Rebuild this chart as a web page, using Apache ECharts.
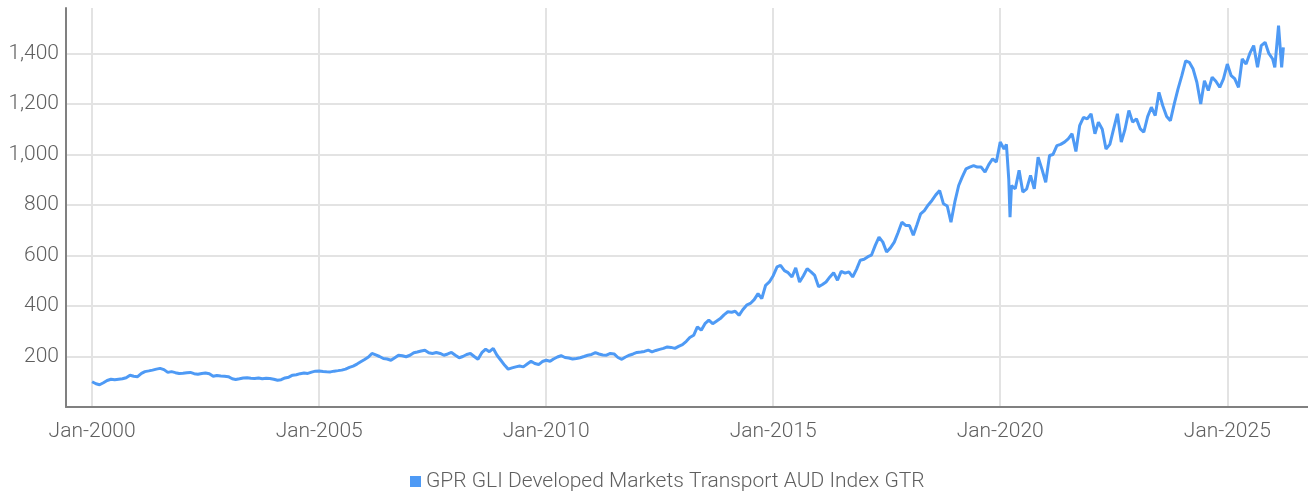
<!DOCTYPE html>
<html>
<head>
<meta charset="utf-8">
<script src="https://cdn.jsdelivr.net/npm/echarts@6/dist/echarts.min.js"></script>
<style>
  html, body { margin: 0; padding: 0; background: #fff; }
  #chart { width: 1308px; height: 493px; }
</style>
</head>
<body>
<div id="chart"></div>
<script>
// series name
var seriesName = 'GPR GLI Developed Markets Transport AUD Index GTR';

// index level (roughly month by month)
var dates = [
  '2000-01-01','2000-02-01','2000-03-01','2000-04-01','2000-05-01','2000-06-01','2000-07-01','2000-08-01','2000-09-01','2000-10-01','2000-11-01','2000-12-01',
  '2001-01-01','2001-02-01','2001-03-01','2001-04-01','2001-05-01','2001-06-01','2001-07-01','2001-08-01','2001-09-01','2001-10-01','2001-11-01','2001-12-01',
  '2002-01-01','2002-02-01','2002-03-01','2002-04-01','2002-05-01','2002-06-01','2002-07-01','2002-08-01','2002-09-01','2002-10-01','2002-11-01','2002-12-01',
  '2003-01-01','2003-02-01','2003-03-01','2003-04-01','2003-05-01','2003-06-01','2003-07-01','2003-08-01','2003-09-01','2003-10-01','2003-11-01','2003-12-01',
  '2004-01-01','2004-02-01','2004-03-01','2004-04-01','2004-05-01','2004-06-01','2004-07-01','2004-08-01','2004-09-01','2004-10-01','2004-11-01','2004-12-01',
  '2005-01-01','2005-02-01','2005-03-01','2005-04-01','2005-05-01','2005-06-01','2005-07-01','2005-08-01','2005-09-01','2005-10-01','2005-11-01','2005-12-01',
  '2006-01-01','2006-02-01','2006-03-01','2006-04-01','2006-05-01','2006-06-01','2006-07-01','2006-08-01','2006-09-01','2006-10-01','2006-11-01','2006-12-01',
  '2007-01-01','2007-02-01','2007-03-01','2007-04-01','2007-05-01','2007-06-01','2007-07-01','2007-08-01','2007-09-01','2007-10-01','2007-11-01','2007-12-01',
  '2008-01-01','2008-02-01','2008-03-01','2008-04-01','2008-05-01','2008-06-01','2008-07-01','2008-08-01','2008-09-01','2008-10-01','2008-11-01','2008-12-01',
  '2009-01-01','2009-02-01','2009-03-01','2009-04-01','2009-05-01','2009-06-01','2009-07-01','2009-08-01','2009-09-01','2009-10-01','2009-11-01','2009-12-01',
  '2010-01-01','2010-02-01','2010-03-01','2010-04-01','2010-05-01','2010-06-01','2010-07-01','2010-08-01','2010-09-01','2010-10-01','2010-11-01','2010-12-01',
  '2011-01-01','2011-02-01','2011-03-01','2011-04-01','2011-05-01','2011-06-01','2011-07-01','2011-08-01','2011-09-01','2011-10-01','2011-11-01','2011-12-01',
  '2012-01-01','2012-02-01','2012-03-01','2012-04-01','2012-05-01','2012-06-01','2012-07-01','2012-08-01','2012-09-01','2012-10-01','2012-11-01','2012-12-01',
  '2013-01-01','2013-02-01','2013-03-01','2013-04-01','2013-05-01','2013-06-01','2013-07-01','2013-08-01','2013-09-01','2013-10-01','2013-11-01','2013-12-01',
  '2014-01-01','2014-02-01','2014-03-01','2014-04-01','2014-05-01','2014-06-01','2014-07-01','2014-08-01','2014-09-01','2014-10-01','2014-11-01','2014-12-01',
  '2015-01-01','2015-02-01','2015-03-01','2015-04-01','2015-05-01','2015-06-01','2015-07-01','2015-08-01','2015-09-01','2015-10-01','2015-11-01','2015-12-01',
  '2016-01-01','2016-02-01','2016-03-01','2016-04-01','2016-05-01','2016-06-01','2016-07-01','2016-08-01','2016-09-01','2016-10-01','2016-11-01','2016-12-01',
  '2017-01-01','2017-02-01','2017-03-01','2017-04-01','2017-05-01','2017-06-01','2017-07-01','2017-08-01','2017-09-01','2017-10-01','2017-11-01','2017-12-01',
  '2018-01-01','2018-02-01','2018-03-01','2018-04-01','2018-05-01','2018-06-01','2018-07-01','2018-08-01','2018-09-01','2018-10-01','2018-11-01','2018-12-01',
  '2019-01-01','2019-02-01','2019-03-01','2019-04-01','2019-05-01','2019-06-01','2019-07-01','2019-08-01','2019-09-01','2019-10-01','2019-11-01','2019-12-01',
  '2020-01-01','2020-02-01','2020-02-20','2020-03-10','2020-03-20','2020-04-01','2020-05-01','2020-06-01','2020-07-01','2020-08-01','2020-09-01','2020-10-01','2020-11-01','2020-12-01',
  '2021-01-01','2021-02-01','2021-03-01','2021-04-01','2021-05-01','2021-06-01','2021-07-01','2021-08-01','2021-09-01','2021-10-01','2021-11-01','2021-12-01',
  '2022-01-01','2022-02-01','2022-03-01','2022-04-01','2022-05-01','2022-06-01','2022-07-01','2022-08-01','2022-09-01','2022-10-01','2022-11-01','2022-12-01',
  '2023-01-01','2023-02-01','2023-03-01','2023-04-01','2023-05-01','2023-06-01','2023-07-01','2023-08-01','2023-09-01','2023-10-01','2023-11-01','2023-12-01',
  '2024-01-01','2024-02-01','2024-03-01','2024-04-01','2024-05-01','2024-06-01','2024-07-01','2024-08-01','2024-09-01','2024-10-01','2024-11-01','2024-12-01',
  '2025-01-01','2025-02-01','2025-03-01','2025-04-01','2025-05-01','2025-06-01','2025-07-01','2025-08-01','2025-09-01','2025-10-01','2025-11-01','2025-12-01',
  '2026-01-01','2026-01-18','2026-02-17','2026-03-14','2026-03-28'
];
var values = [
  100, 92, 88, 96, 105, 110, 108, 110, 112, 116, 126, 122,
  120, 133, 140, 143, 146, 150, 153, 148, 137, 140, 136, 133,
  134, 136, 137, 132, 130, 133, 135, 132, 122, 125, 123, 122,
  120, 112, 109, 112, 115, 116, 114, 113, 115, 112, 114, 113,
  110, 106, 108, 115, 118, 126, 128, 132, 135, 133, 138, 142,
  143, 141, 140, 139, 142, 144, 146, 150, 157, 162, 170, 179,
  188, 198, 212, 206, 200, 192, 190, 185, 195, 205, 203, 199,
  205, 215, 218, 222, 225, 215, 212, 216, 212, 205, 210, 216,
  205, 195, 200, 208, 212, 200, 189, 215, 229, 219, 232, 205,
  185, 165, 150, 155, 159, 162, 159, 170, 181, 172, 168, 180,
  185, 181, 190, 198, 203, 196, 194, 190, 192, 195, 200, 205,
  208, 215, 210, 206, 205, 212, 210, 196, 189, 198, 205, 210,
  216, 218, 220, 225, 218, 224, 228, 232, 238, 236, 232, 240,
  247, 260, 275, 284, 317, 304, 330, 344, 330, 340, 350, 365,
  377, 375, 379, 363, 385, 403, 410, 425, 449, 429, 482, 495,
  520, 555, 561, 540, 532, 515, 551, 495, 520, 548, 535, 521,
  476, 485, 495, 515, 532, 502, 537, 530, 535, 515, 545, 581,
  585, 595, 601, 640, 673, 653, 614, 630, 653, 690, 732, 719,
  719, 680, 720, 765, 778, 800, 818, 840, 857, 805, 796, 732,
  812, 877, 910, 943, 950, 956, 950, 950, 930, 960, 983, 970,
  1049, 1022, 1040, 900, 752, 877, 864, 937, 851, 864, 917, 864, 989, 943,
  890, 996, 1000, 1035, 1040, 1049, 1062, 1082, 1012, 1114, 1147, 1141,
  1161, 1082, 1128, 1100, 1022, 1040, 1100, 1161, 1049, 1100, 1174, 1128,
  1141, 1101, 1088, 1150, 1187, 1154, 1246, 1193, 1150, 1134, 1200, 1259,
  1312, 1371, 1365, 1338, 1286, 1200, 1292, 1253, 1306, 1290, 1266, 1299,
  1358, 1312, 1300, 1266, 1378, 1358, 1400, 1431, 1345, 1431, 1444, 1400,
  1378, 1345, 1510, 1345, 1424
];

// labelled years on the x axis
var tickYears = [2000, 2005, 2010, 2015, 2020, 2025];

var textColor = '#5f5f5f';
var fontFam = 'Roboto, sans-serif';
var fontW = 300;

function toTime(s) {
  return +echarts.time.parse(s);
}

var chart = echarts.init(document.getElementById('chart'), null, { renderer: 'canvas' });

var tickTimes = tickYears.map(function (y) {
  return toTime(y + '-01-01');
});

var option = {
  animation: false,
  grid: {
    left: 66,
    right: 0,
    top: 8,
    bottom: 86
  },
  legend: {
    show: true,
    left: 405,
    top: 466,
    icon: 'rect',
    itemWidth: 11,
    itemHeight: 11,
    itemGap: 6,
    textStyle: {
      color: textColor,
      fontFamily: fontFam,
      fontWeight: fontW,
      fontSize: 21
    },
    data: [seriesName]
  },
  // x is a plain value axis holding timestamps, so the labelled Januaries can be fixed
  xAxis: {
    type: 'value',
    min: toTime('1999-06-05'),
    max: toTime('2026-10-12'),
    axisLine: {
      show: true,
      lineStyle: { color: '#808080', width: 2 }
    },
    axisTick: {
      show: false,
      customValues: tickTimes
    },
    axisLabel: {
      customValues: tickTimes,
      margin: 14,
      color: textColor,
      fontFamily: fontFam,
      fontWeight: fontW,
      fontSize: 21,
      formatter: function (v) {
        return 'Jan-' + new Date(v).getFullYear();
      }
    },
    splitLine: {
      show: true,
      lineStyle: { color: '#e3e3e3', width: 2 }
    }
  },
  yAxis: {
    type: 'value',
    min: 0,
    max: 1580,
    interval: 200,
    axisLine: {
      show: true,
      lineStyle: { color: '#808080', width: 2 }
    },
    axisTick: { show: false },
    axisLabel: {
      margin: 7,
      color: textColor,
      fontFamily: fontFam,
      fontWeight: fontW,
      fontSize: 21,
      showMinLabel: false,
      showMaxLabel: false,
      formatter: function (v) {
        return v.toLocaleString('en-US');
      }
    },
    splitLine: {
      show: true,
      showMinLine: false,
      showMaxLine: false,
      lineStyle: { color: '#e3e3e3', width: 2 }
    }
  },
  series: [{
    name: seriesName,
    type: 'line',
    showSymbol: false,
    symbol: 'none',
    smooth: false,
    color: '#4e9af5',
    lineStyle: { color: '#4e9af5', width: 3 },
    data: dates.map(function (d, i) { return [toTime(d), values[i]]; })
  }]
};

chart.setOption(option);
</script>
</body>
</html>
